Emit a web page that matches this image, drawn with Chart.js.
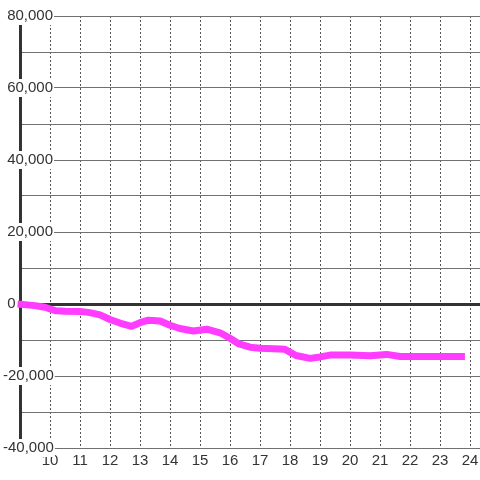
<!DOCTYPE html>
<html>
<head>
<meta charset="utf-8">
<script src="https://cdn.jsdelivr.net/npm/chart.js@4/dist/chart.umd.min.js"></script>
<style>
  html, body { margin: 0; padding: 0; background: #fff; }
  #chart { display: block; }
</style>
</head>
<body>
<canvas id="chart" width="480" height="480"></canvas>
<script>
// Hour of day for each reading
const hours = [8.92, 9.5, 9.83, 10.2, 10.5, 11.0, 11.33, 11.67, 12.0, 12.33, 12.72,
  13.0, 13.28, 13.67, 14.0, 14.33, 14.78, 15.22, 15.67, 16.0, 16.3, 16.67, 17.0,
  17.67, 17.83, 18.2, 18.67, 19.0, 19.33, 20.0, 20.67, 21.22, 21.67, 22.0, 23.0, 23.83];

// Running value at each reading
const values = [0, -450, -900, -1900, -2000, -2050, -2400, -3000, -4300, -5300, -6200,
  -5200, -4500, -4700, -5900, -6800, -7500, -7000, -8000, -9500, -11100, -12000, -12300,
  -12500, -12600, -14300, -15100, -14700, -14200, -14200, -14400, -14000, -14600, -14600, -14600, -14600];

const xTicks = [10, 11, 12, 13, 14, 15, 16, 17, 18, 19, 20, 21, 22, 23, 24];
const yLabelStep = 20000;

const points = hours.map(function(h, i) {
    return { x: h, y: values[i] };
});

Chart.defaults.font.family = '"Liberation Sans", Arial, sans-serif';
Chart.defaults.font.size = 15;
Chart.defaults.color = '#333';

new Chart(document.getElementById('chart'), {
    type: 'line',
    data: {
        datasets: [{
            data: points,
            borderColor: '#ff3cff',
            borderWidth: 7,
            borderJoinStyle: 'round',
            pointRadius: 0,
            tension: 0,
            clip: false
        }]
    },
    options: {
        responsive: false,
        animation: false,
        layout: { padding: { top: 16, left: 0, right: 0, bottom: 0 } },
        plugins: {
            legend: { display: false },
            tooltip: { enabled: false }
        },
        scales: {
            x: {
                type: 'linear',
                min: 9,
                max: 24.333,
                border: { display: false, dash: [2, 2] },
                grid: { color: '#555', drawTicks: false },
                ticks: {
                    stepSize: 1,
                    includeBounds: false,
                    padding: 4,
                    callback: function(v) {
                        return xTicks.includes(v) ? String(v) : '';
                    }
                },
                afterFit: function(s) {
                    s.height = 32;
                    s.paddingLeft = 0;
                    s.paddingRight = 0;
                }
            },
            y: {
                min: -40000,
                max: 80000,
                border: { display: true, color: '#333', width: 3 },
                grid: {
                    drawTicks: false,
                    color: function(ctx) { return ctx.tick.value === 0 ? '#333' : '#707070'; },
                    lineWidth: function(ctx) { return ctx.tick.value === 0 ? 3 : 1; }
                },
                ticks: {
                    stepSize: 10000,
                    mirror: true,
                    padding: -17,
                    showLabelBackdrop: function(ctx) { return ctx.tick.value % yLabelStep === 0; },
                    backdropColor: '#fff',
                    backdropPadding: { top: 0, bottom: 0, left: 1, right: 1 },
                    callback: function(v) {
                        if (v % yLabelStep !== 0) return '';
                        return (v < 0 ? '' : ' ') + v.toLocaleString('en-US');
                    }
                },
                afterFit: function(s) {
                    s.width = 20;
                    s.paddingTop = 0;
                    s.paddingBottom = 0;
                }
            }
        }
    }
});
</script>
</body>
</html>
